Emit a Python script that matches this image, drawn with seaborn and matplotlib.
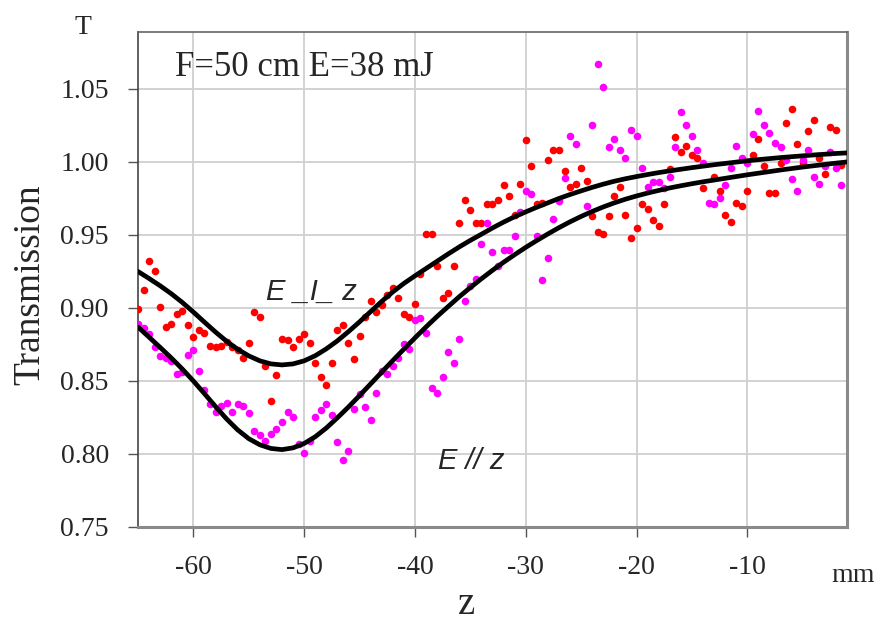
import matplotlib
matplotlib.use("Agg")
import matplotlib.pyplot as plt
import pandas as pd
import seaborn as sns

# ---- data ----
x_perp = [-65, -64.5, -64, -63.5, -63, -62.5, -62, -61.5, -61, -60.5, -60, -59.5, -59, -58.5, -58,
          -57.5, -57, -56.5, -56, -55.5, -55, -54.5, -54, -53.5, -53, -52.5, -52, -51.5, -51, -50.5,
          -50, -49.5, -49, -48.5, -48, -47.5, -47, -46.5, -46, -45.5, -45, -44.5, -44, -43.5, -43,
          -42.5, -42, -41.5, -41, -40.5, -40, -39.5, -39, -38.5, -38, -37.5, -37, -36.5, -36, -35.5,
          -35, -34.5, -34, -33.5, -33, -32.5, -32, -31.5, -31, -30.5, -30, -29.5, -29, -28.5, -28,
          -27.5, -27, -26.5, -26, -25.5, -25, -24.5, -24, -23.5, -23, -22.5, -22, -21.5, -21, -20.5,
          -20, -19.5, -19, -18.5, -18, -17.5, -17, -16.5, -16, -15.5, -15, -14.5, -14, -13, -12.5,
          -12, -11.5, -11, -10.5, -10, -9.5, -9, -8.5, -8, -7.5, -7, -6.5, -6, -5.5, -5, -4.5, -4,
          -3.5, -3, -2.5, -2, -1.5]
t_perp = [0.899, 0.912, 0.932, 0.925, 0.901, 0.887, 0.889, 0.896, 0.898, 0.888, 0.880, 0.885, 0.883,
          0.874, 0.873, 0.874, 0.877, 0.873, 0.871, 0.866, 0.876, 0.897, 0.894, 0.860, 0.836, 0.854,
          0.879, 0.878, 0.873, 0.879, 0.882, 0.876, 0.862, 0.853, 0.847, 0.862, 0.885, 0.888, 0.876,
          0.865, 0.881, 0.894, 0.905, 0.897, 0.902, 0.909, 0.914, 0.907, 0.896, 0.894, 0.903, 0.923,
          0.951, 0.951, 0.929, 0.907, 0.910, 0.929, 0.958, 0.974, 0.967, 0.958, 0.958, 0.971, 0.971,
          0.974, 0.984, 0.977, 0.964, 0.985, 1.015, 0.997, 0.971, 0.972, 1.001, 1.008, 1.008, 0.994,
          0.983, 0.985, 0.996, 0.987, 0.963, 0.952, 0.951, 0.963, 0.977, 0.983, 0.964, 0.948, 0.955,
          0.971, 0.968, 0.960, 0.956, 0.971, 0.995, 1.017, 1.007, 1.011, 1.005, 1.003, 0.982, 0.990,
          0.980, 0.964, 0.959, 0.972, 0.970, 0.980, 1.005, 1.016, 0.997, 0.979, 0.979, 0.999, 1.027,
          1.036, 1.012, 0.999, 1.021, 1.029, 1.003, 0.992, 1.024, 1.022, 0.998]

x_par = [-65, -64.5, -64, -63.5, -63, -62.5, -62, -61.5, -61, -60.5, -60, -59.5, -59, -58.5, -58,
         -57.5, -57, -56.5, -56, -55.5, -55, -54.5, -54, -53.5, -53, -52.5, -52, -51.5, -51, -50.5,
         -50, -49.5, -49, -48.5, -48, -47.5, -47, -46.5, -46, -45.5, -45, -44.5, -44, -43.5, -43,
         -42.5, -42, -41.5, -41, -40.5, -40, -39.5, -39, -38.5, -38, -37.5, -37, -36.5, -36, -35.5,
         -35, -34.5, -34, -33.5, -33, -32.5, -32, -31.5, -31, -30.5, -30, -29.5, -29, -28.5, -28,
         -27.5, -27, -26.5, -26, -25.5, -24.5, -24, -23.5, -23, -22.5, -22, -21.5, -21, -20.5,
         -20, -19.5, -19, -18.5, -18, -17.5, -17, -16.5, -16, -15.5, -15, -14.5, -14, -13.5, -13,
         -12.5, -12, -11.5, -11, -10.5, -10, -9.5, -9, -8.5, -8, -7.5, -7, -6.5, -6, -5.5, -5,
         -4.5, -4, -3.5, -3, -2.5, -2, -1.5]
t_par = [0.889, 0.886, 0.882, 0.873, 0.867, 0.866, 0.864, 0.855, 0.856, 0.868, 0.871, 0.857, 0.844,
         0.834, 0.829, 0.833, 0.835, 0.829, 0.834, 0.833, 0.828, 0.816, 0.813, 0.809, 0.814, 0.817,
         0.822, 0.829, 0.825, 0.807, 0.801, 0.809, 0.825, 0.830, 0.834, 0.827, 0.808, 0.796, 0.802,
         0.831, 0.841, 0.832, 0.823, 0.842, 0.857, 0.855, 0.860, 0.866, 0.875, 0.872, 0.892, 0.893,
         0.883, 0.845, 0.842, 0.853, 0.870, 0.862, 0.879, 0.905, 0.915, 0.920, 0.944, 0.958, 0.938,
         0.929, 0.940, 0.940, 0.949, 0.966, 0.980, 0.978, 0.949, 0.919, 0.934, 0.961, 0.973, 0.989,
         1.018, 1.012, 0.970, 1.025, 1.067, 1.051, 1.010, 1.016, 1.008, 1.003, 1.022, 1.018, 0.996,
         0.983, 0.986, 0.986, 0.982, 0.990, 1.010, 1.034, 1.025, 1.018, 1.008, 0.999, 0.972, 0.971,
         0.975, 0.984, 0.996, 1.011, 1.003, 0.999, 1.019, 1.035, 1.025, 1.020, 1.013, 1.010, 1.001,
         0.988, 0.980, 1.001, 1.008, 0.990, 0.985, 0.997, 1.007, 0.996, 0.984]

fit_x = [-65, -64, -63, -62, -61, -60, -59, -58, -57, -56, -55, -54, -53, -52, -51, -50, -49, -48,
         -47, -46, -45, -44, -43, -42, -41, -40, -39, -38, -37, -36, -35, -34, -33, -32, -31, -30,
         -29, -28, -27, -26, -25, -24, -23, -22, -21, -20, -19, -18, -17, -16, -15, -14, -13, -12,
         -11, -10, -9, -8, -7, -6, -5, -4, -3, -2, -1]
fit_perp = [0.925, 0.9202, 0.9152, 0.9098, 0.9038, 0.8972, 0.8903, 0.8835, 0.8772, 0.8717, 0.8672,
            0.8638, 0.8617, 0.8610, 0.8617, 0.8638, 0.8673, 0.8720, 0.8775, 0.8838, 0.8905, 0.8975,
            0.9045, 0.9110, 0.9168, 0.9220, 0.9270, 0.9320, 0.9370, 0.9418, 0.9463, 0.9505, 0.9548,
            0.9588, 0.9625, 0.9658, 0.9690, 0.9720, 0.9750, 0.9777, 0.9802, 0.9826, 0.9848, 0.9868,
            0.9885, 0.9900, 0.9914, 0.9927, 0.9939, 0.9950, 0.9961, 0.9971, 0.9981, 0.9990, 0.9999,
            1.0008, 1.0016, 1.0023, 1.0030, 1.0036, 1.0042, 1.0048, 1.0053, 1.0058, 1.0062]
fit_par = [0.8870, 0.8800, 0.8730, 0.8658, 0.8582, 0.8500, 0.8413, 0.8325, 0.8240, 0.8165, 0.8105,
           0.8063, 0.8038, 0.8030, 0.8042, 0.8072, 0.8118, 0.8178, 0.8248, 0.8322, 0.8400, 0.8480,
           0.8560, 0.8640, 0.8718, 0.8795, 0.8870, 0.8942, 0.9010, 0.9077, 0.9140, 0.9200, 0.9258,
           0.9313, 0.9365, 0.9415, 0.9462, 0.9507, 0.9550, 0.9590, 0.9627, 0.9661, 0.9692, 0.9720,
           0.9745, 0.9767, 0.9787, 0.9805, 0.9822, 0.9837, 0.9851, 0.9864, 0.9876, 0.9888, 0.9900,
           0.9912, 0.9923, 0.9934, 0.9945, 0.9955, 0.9965, 0.9974, 0.9983, 0.9992, 1.0000]

y_ticks = [0.75, 0.80, 0.85, 0.90, 0.95, 1.00, 1.05]
x_ticks = [-60, -50, -40, -30, -20, -10]

# ---- figure ----
sns.set_style("white")
plt.rcParams["font.family"] = ["Liberation Serif", "DejaVu Serif"]

df_perp = pd.DataFrame({"z": x_perp, "T": t_perp})
df_par = pd.DataFrame({"z": x_par, "T": t_par})
df_fit = pd.DataFrame({"z": fit_x, "perp": fit_perp, "par": fit_par})

fig = plt.figure(figsize=(8.8, 6.3), dpi=100)
ax = fig.add_axes([0.1568, 0.1635, 0.8057, 0.7857])

sns.scatterplot(data=df_perp, x="z", y="T", ax=ax, color="#ff0000", s=30, linewidth=0, zorder=3)
sns.scatterplot(data=df_par, x="z", y="T", ax=ax, color="#ff00ff", s=30, linewidth=0, zorder=3)
sns.lineplot(data=df_fit, x="z", y="perp", ax=ax, color="black", linewidth=3.4,
             solid_joinstyle="round", solid_capstyle="round", zorder=4)
sns.lineplot(data=df_fit, x="z", y="par", ax=ax, color="black", linewidth=3.4,
             solid_joinstyle="round", solid_capstyle="round", zorder=4)

ax.set_xlim(-65, -1)
ax.set_ylim(0.75, 1.089)
ax.set_xticks(x_ticks)
ax.set_yticks(y_ticks)
ax.set_xticklabels([str(v) for v in x_ticks])
ax.set_yticklabels([f"{v:.2f}" for v in y_ticks])
ax.set_xlabel("")
ax.set_ylabel("")
ax.grid(True, color="#cfcfcf", lw=1.3)
ax.set_axisbelow(True)
ax.tick_params(axis="x", bottom=True, direction="out", length=7, width=1, color="#555555",
               pad=13, labelsize=20)
ax.tick_params(axis="y", left=True, direction="out", length=7, width=1, color="#555555",
               pad=14, labelsize=20)
for side, col, lw in [("left", "#444444", 1.2), ("bottom", "#8a8a8a", 2.2),
                      ("top", "#666666", 1.2), ("right", "#8a8a8a", 2.2)]:
    ax.spines[side].set_color(col)
    ax.spines[side].set_linewidth(lw)
    ax.spines[side].set_visible(True)

ax.text(-61.7, 1.065, "F=50 cm E=38 mJ", fontsize=25, ha="left", va="center")
sans_it = dict(family=["Liberation Sans", "DejaVu Sans"], style="italic", fontsize=21)
ax.text(-49.3, 0.911, "E _I_ z", ha="center", va="center", **sans_it)
ax.text(-34.9, 0.795, "E // z", ha="center", va="center", **sans_it)

fig.text(83 / 880, 1 - 27 / 630, "T", fontsize=20, ha="center", va="center")
fig.text(30 / 880, 1 - 285 / 630, "Transmission", fontsize=27, rotation=90, ha="center", va="center")
fig.text(467 / 880, 1 - 604 / 630, "z", fontsize=28, ha="center", va="center")
fig.text(853 / 880, 1 - 576 / 630, "mm", fontsize=20, ha="center", va="center")

fig.savefig("out.png", dpi=100, facecolor="white")
